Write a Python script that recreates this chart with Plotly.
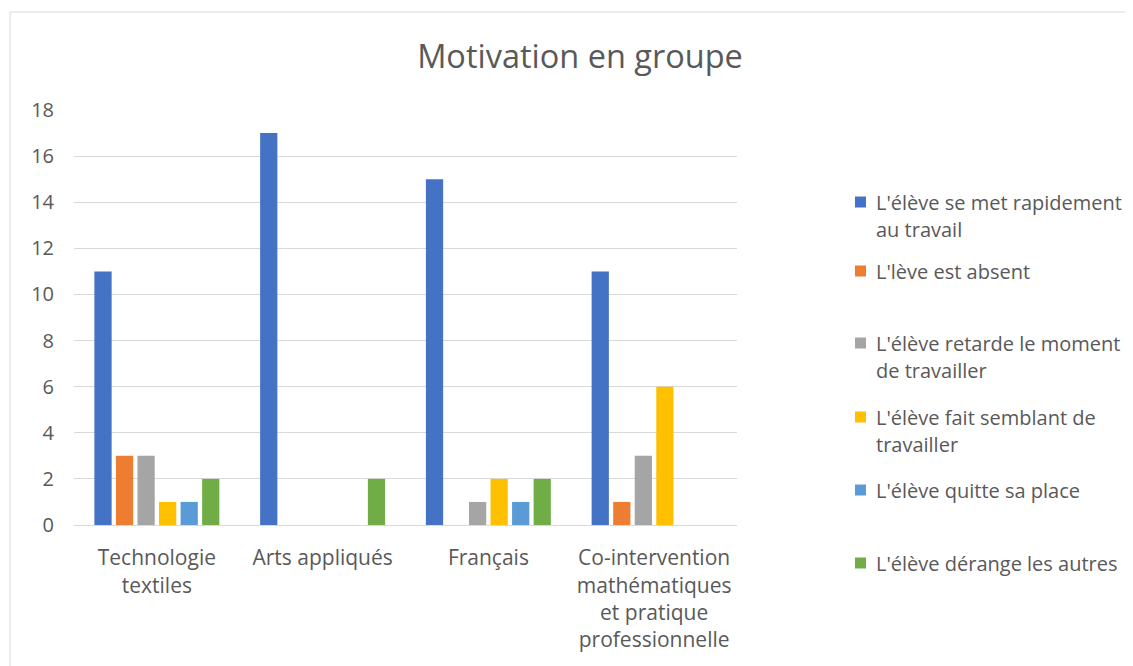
import plotly.graph_objects as go

# ── Data ─────────────────────────────────────────────────────────────────────
categories = [
    "Technologie<br>textiles",
    "Arts appliqués",
    "Français",
    "Co-intervention<br>mathématiques<br>et pratique<br>professionnelle",
]
series_names = [
    "L'élève se met rapidement<br>au travail",
    "L'lève est absent",
    "L'élève retarde le moment<br>de travailler",
    "L'élève fait semblant de<br>travailler",
    "L'élève quitte sa place",
    "L'élève dérange les autres",
]
rapidement = [11, 17, 15, 11]
absent = [3, 0, 0, 1]
retarde = [3, 0, 1, 3]
semblant = [1, 0, 2, 6]
quitte = [1, 0, 1, 0]
derange = [2, 2, 2, 0]
series_values = [rapidement, absent, retarde, semblant, quitte, derange]
y_ticks = [0, 2, 4, 6, 8, 10, 12, 14, 16, 18]

COLORS = ["#4472C4", "#ED7D31", "#A5A5A5", "#FFC000", "#5B9BD5", "#70AD47"]
TEXT = "#595959"
GRID = "#D9D9D9"
FONT = "Open Sans, sans-serif"

# ── Layout geometry (page pixels; the page body has an 8px margin) ───────────
OFF = 8
W, H = 1133 - OFF, 666 - OFF
PL, PR, PT, PB = 74, 737, 110, 525          # plot area edges on the page
L, R, T, B = PL - OFF, W - (PR - OFF), PT - OFF, H - (PB - OFF)
PW, PH = W - L - R, H - T - B


def px_x(x):
    return (x - OFF - L) / PW


def px_y(y):
    return (H - B - (y - OFF)) / PH


fig = go.Figure()
for name, vals, color in zip(series_names, series_values, COLORS):
    fig.add_trace(go.Bar(
        x=categories, y=vals, name=name,
        marker=dict(color=color, line=dict(width=0)),
        showlegend=False,
    ))

# ── Manual legend (Excel-like even spacing) ──────────────────────────────────
legend_y = [202, 271, 343, 417, 490, 563]
line_h = 27
shapes = []
annotations = []
for name, color, yc in zip(series_names, COLORS, legend_y):
    shapes.append(dict(
        type="rect", xref="paper", yref="paper",
        x0=px_x(855), x1=px_x(866), y0=px_y(yc + 5.5), y1=px_y(yc - 5.5),
        fillcolor=color, line=dict(width=0),
    ))
    for i, line in enumerate(name.split("<br>")):
        annotations.append(dict(
            text=line, xref="paper", yref="paper",
            x=px_x(874), y=px_y(yc + i * line_h),
            xanchor="left", yanchor="middle", showarrow=False,
            font=dict(family=FONT, size=20, color=TEXT),
        ))

# chart border
shapes.append(dict(
    type="rect", xref="paper", yref="paper",
    x0=px_x(10), x1=px_x(1200), y0=px_y(700), y1=px_y(12),
    line=dict(color="#D9D9D9", width=1), fillcolor="rgba(0,0,0,0)", layer="below",
))

fig.update_layout(
    width=W, height=H,
    paper_bgcolor="white", plot_bgcolor="white",
    margin=dict(l=L, r=R, t=T, b=B),
    font=dict(family=FONT, color=TEXT, size=21),
    title=dict(text="Motivation en groupe", x=(580 - OFF) / W, xanchor="center",
               y=1 - (57 - OFF) / H, yanchor="middle", yref="container",
               font=dict(size=32.5, color=TEXT, family=FONT)),
    barmode="group", bargap=0.22, bargroupgap=0.2,
    shapes=shapes, annotations=annotations,
)
fig.update_yaxes(range=[0, 18], tickvals=y_ticks, showgrid=True, gridcolor=GRID,
                 gridwidth=1, zeroline=True, zerolinecolor=GRID, zerolinewidth=1,
                 ticks="", ticklabelstandoff=19, tickfont=dict(size=20, color=TEXT))
fig.update_xaxes(showline=True, linecolor=GRID, linewidth=1, ticks="",
                 ticklabelstandoff=14, tickfont=dict(size=21, color=TEXT),
                 tickangle=0)

fig.write_html("out.html")
